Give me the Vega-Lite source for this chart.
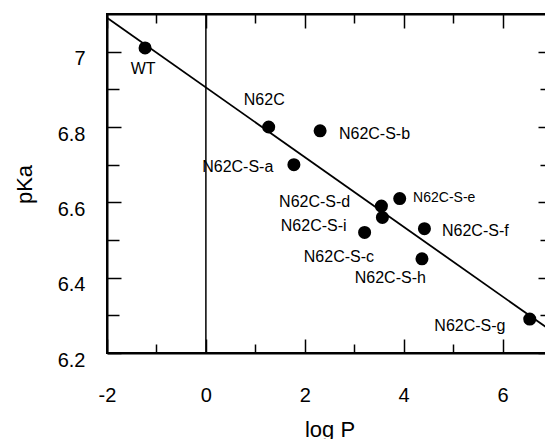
{
  "$schema": "https://vega.github.io/schema/vega-lite/v6.json",
  "width": 445,
  "height": 339,
  "autosize": "none",
  "padding": {"left": 107, "top": 14, "right": 0, "bottom": 86},
  "background": "white",
  "config": {
    "font": "Liberation Sans",
    "view": {"stroke": "black", "strokeWidth": 2},
    "axis": {"grid": false, "domainColor": "black", "domainWidth": 2, "tickColor": "black", "tickWidth": 1.5, "labelColor": "black", "titleColor": "black", "labelFlush": false, "labelOverlap": false}
  },
  "datasets": {
    "points": [
      {"name": "WT", "logP": -1.23, "pKa": 7.01},
      {"name": "N62C", "logP": 1.27, "pKa": 6.80},
      {"name": "N62C-S-a", "logP": 1.78, "pKa": 6.70},
      {"name": "N62C-S-b", "logP": 2.31, "pKa": 6.79},
      {"name": "N62C-S-c", "logP": 3.21, "pKa": 6.52},
      {"name": "N62C-S-d", "logP": 3.55, "pKa": 6.59},
      {"name": "N62C-S-e", "logP": 3.92, "pKa": 6.61},
      {"name": "N62C-S-f", "logP": 4.42, "pKa": 6.53},
      {"name": "N62C-S-g", "logP": 6.55, "pKa": 6.29},
      {"name": "N62C-S-h", "logP": 4.37, "pKa": 6.45},
      {"name": "N62C-S-i", "logP": 3.57, "pKa": 6.56}
    ],
    "labels": [
      {"label": "WT", "lx": -1.27, "ly": 6.955},
      {"label": "N62C", "lx": 1.18, "ly": 6.873},
      {"label": "N62C-S-a", "lx": 0.645, "ly": 6.693},
      {"label": "N62C-S-b", "lx": 3.41, "ly": 6.782},
      {"label": "N62C-S-c", "lx": 2.69, "ly": 6.455},
      {"label": "N62C-S-d", "lx": 2.2, "ly": 6.602},
      {"label": "N62C-S-e", "lx": 4.82, "ly": 6.611},
      {"label": "N62C-S-f", "lx": 5.45, "ly": 6.523},
      {"label": "N62C-S-g", "lx": 5.34, "ly": 6.272},
      {"label": "N62C-S-h", "lx": 3.73, "ly": 6.399},
      {"label": "N62C-S-i", "lx": 2.18, "ly": 6.536}
    ],
    "fit": [
      {"logP": -2, "pKa": 7.09},
      {"logP": 7, "pKa": 6.2575}
    ],
    "zero": [{"logP": 0}]
  },
  "layer": [
    {
      "data": {"name": "zero"},
      "mark": {"type": "rule", "color": "black", "strokeWidth": 1.5},
      "encoding": {
        "x": {
          "field": "logP", "type": "quantitative",
          "scale": {"domain": [-2, 7], "nice": false, "zero": false},
          "axis": {
            "orient": "bottom",
            "values": [-2, -1, 0, 1, 2, 3, 4, 5, 6, 7],
            "tickSize": {"condition": {"test": "datum.value % 2 === 0", "value": -14}, "value": -9},
            "labelExpr": "datum.value % 2 === 0 && datum.value < 7 ? toString(datum.value) : ''",
            "labelFontSize": 20,
            "labelPadding": 62,
            "labelBaseline": "alphabetic",
            "title": "log P",
            "titleFontSize": 22,
            "titleFontWeight": "normal",
            "titleY": 83,
            "titleBaseline": "alphabetic"
          }
        }
      }
    },
    {
      "data": {"name": "fit"},
      "mark": {"type": "line", "color": "black", "strokeWidth": 1.8},
      "encoding": {
        "x": {
          "field": "logP", "type": "quantitative",
          "axis": {
            "orient": "top",
            "values": [-2, -1, 0, 1, 2, 3, 4, 5, 6, 7],
            "tickSize": {"condition": {"test": "datum.value % 2 === 0", "value": -14}, "value": -9},
            "labels": false,
            "title": null
          }
        },
        "y": {
          "field": "pKa", "type": "quantitative",
          "scale": {"domain": [6.2, 7.1], "nice": false, "zero": false},
          "axis": {
            "orient": "left",
            "values": [6.2, 6.3, 6.4, 6.5, 6.6, 6.7, 6.8, 6.9, 7.0],
            "tickSize": {"condition": {"test": "round(datum.value*10) % 2 === 0", "value": -14}, "value": -12},
            "labelExpr": "round(datum.value*10) % 2 === 0 ? toString(round(datum.value*10)/10) : ''",
            "labelFontSize": 20,
            "labelPadding": 36,
            "labelBaseline": "alphabetic",
            "labelOffset": 13,
            "title": "pKa",
            "titleFontSize": 22,
            "titleFontWeight": "normal",
            "titleX": -76,
            "titleY": 170,
            "titleAngle": -90,
            "titleAlign": "center",
            "titleBaseline": "alphabetic"
          }
        }
      }
    },
    {
      "data": {"name": "points"},
      "mark": {"type": "point", "filled": true, "color": "black", "opacity": 1, "size": 170},
      "encoding": {
        "x": {"field": "logP", "type": "quantitative", "axis": null},
        "y": {
          "field": "pKa", "type": "quantitative",
          "axis": {
            "orient": "right",
            "values": [6.2, 6.3, 6.4, 6.5, 6.6, 6.7, 6.8, 6.9, 7.0],
            "tickSize": {"condition": {"test": "round(datum.value*10) % 2 === 0", "value": -14}, "value": -12},
            "labels": false,
            "title": null
          }
        }
      }
    },
    {
      "data": {"name": "labels"},
      "transform": [{"filter": "datum.label !== 'N62C-S-e'"}],
      "mark": {"type": "text", "align": "center", "baseline": "middle", "fontSize": 16, "color": "black"},
      "encoding": {
        "x": {"field": "lx", "type": "quantitative", "axis": null},
        "y": {"field": "ly", "type": "quantitative", "axis": null},
        "text": {"field": "label"}
      }
    },
    {
      "data": {"name": "labels"},
      "transform": [{"filter": "datum.label === 'N62C-S-e'"}],
      "mark": {"type": "text", "align": "center", "baseline": "middle", "fontSize": 14, "color": "black"},
      "encoding": {
        "x": {"field": "lx", "type": "quantitative", "axis": null},
        "y": {"field": "ly", "type": "quantitative", "axis": null},
        "text": {"field": "label"}
      }
    }
  ],
  "resolve": {"axis": {"x": "independent", "y": "independent"}}
}
